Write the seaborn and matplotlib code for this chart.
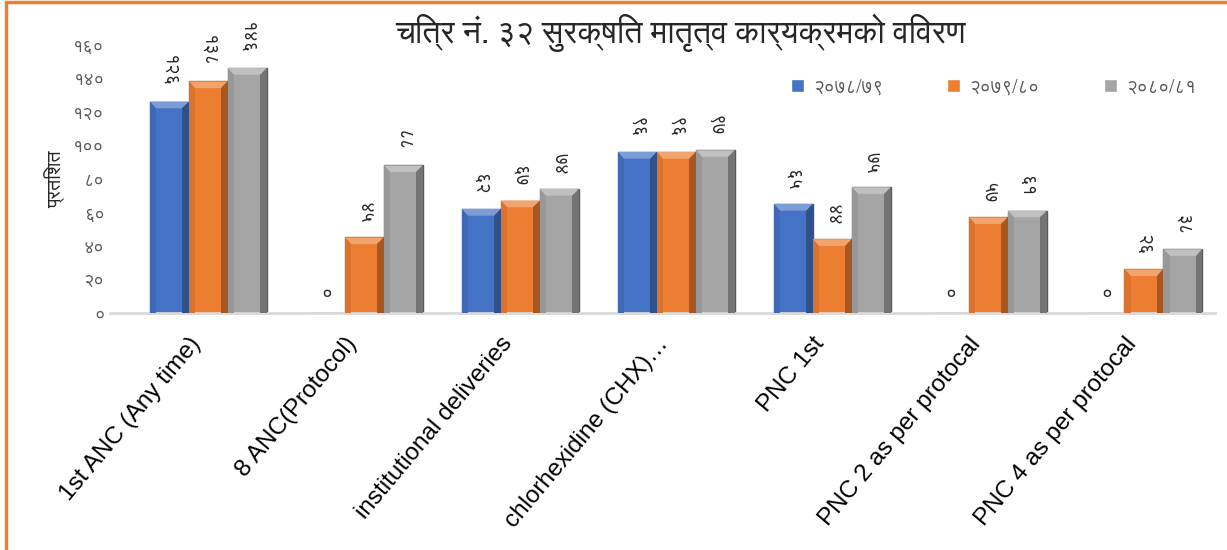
import pandas as pd
import matplotlib.pyplot as plt
import matplotlib.transforms as mtrans
import seaborn as sns
from matplotlib import font_manager
from matplotlib.lines import Line2D
from matplotlib.patches import Polygon
from matplotlib.colors import to_rgb

# डेटा
categories = ['1st ANC (Any time)', '8 ANC(Protocol)', 'institutional deliveries',
              'chlorhexidine (CHX)…', 'PNC 1st', 'PNC 2 as per protocal',
              'PNC 4 as per protocal']
years = ['२०७८/७९', '२०७९/८०', '२०८०/८१']
v_7879 = [126, 0, 62, 96, 65, 0, 0]
v_7980 = [138, 45, 67, 96, 44, 57, 26]
v_8081 = [146, 88, 74, 97, 75, 61, 38]
y_ticks = [0, 20, 40, 60, 80, 100, 120, 140, 160]

colors = ['#4472C4', '#ED7D31', '#A5A5A5']
edges = ['#2F5597', '#C55A11', '#595959']

# देवनागरी फन्ट खोज्ने (नभए Liberation Sans)
deva = [f.name for f in font_manager.fontManager.ttflist
        if 'Devanagari' in f.name or f.name in ('Lohit Devanagari', 'Mukta', 'FreeSans',
                                                'Kalimati', 'Mangal', 'Gargi', 'Samanata')]
fam = ([deva[0]] if deva else []) + ['Liberation Sans', 'DejaVu Sans']

to_deva = str.maketrans('0123456789', '०१२३४५६७८९')


def mix(c, other, t):
    a, b = to_rgb(c), to_rgb(other)
    return tuple(a[i] * (1 - t) + b[i] * t for i in range(3))


df = pd.DataFrame({
    'category': categories * 3,
    'year': [years[0]] * 7 + [years[1]] * 7 + [years[2]] * 7,
    'value': v_7879 + v_7980 + v_8081,
})

sns.set_style('white')
plt.rcParams['font.family'] = fam

fig = plt.figure(figsize=(12.27, 5.5), dpi=100)
ax = fig.add_axes([0.0897, 0.431, 0.9005, 0.488])

sns.barplot(data=df, x='category', y='value', hue='year', palette=colors,
            width=0.75, saturation=1, ax=ax)

ax.set_ylim(0, 160)
ax.set_xlim(-0.628, 6.455)

# बेभल जस्तो छाया (बारबाटै निकालिएको)
bx, by = 0.04, 4.0
for cont, col, ec in zip(ax.containers, colors, edges):
    for bar in cont:
        bar.set_edgecolor(ec)
        bar.set_linewidth(1.0)
        x, w, h = bar.get_x(), bar.get_width(), bar.get_height()
        if h <= 0:
            continue
        ax.add_patch(Polygon([(x, h), (x + w, h), (x + w - bx, h - by), (x + bx, h - by)],
                             closed=True, fc=mix(col, 'white', 0.3), ec='none', zorder=3))
        ax.add_patch(Polygon([(x + w, h), (x + w, 0), (x + w - bx, 0), (x + w - bx, h - by)],
                             closed=True, fc=mix(col, 'black', 0.3), ec='none', zorder=3))
        ax.add_patch(Polygon([(x, h), (x, 0), (x + bx, 0), (x + bx, h - by)],
                             closed=True, fc=mix(col, 'black', 0.08), ec='none', zorder=3))
    vals = [str(int(round(b.get_height()))).translate(to_deva) for b in cont]
    ax.bar_label(cont, labels=vals, rotation=-90, padding=10, fontsize=13.5,
                 color='#262626', family=fam)

ax.set_yticks(y_ticks)
ax.set_yticklabels([str(t).translate(to_deva) for t in y_ticks], family=fam,
                   fontsize=13, color='#595959')
ax.tick_params(axis='y', length=0, pad=4)
ax.tick_params(axis='x', length=0, pad=0)
ax.set_xticks(range(len(categories)))
ax.set_xticklabels(categories, rotation=50, ha='right', rotation_mode='anchor',
                   fontsize=17.5, family=['Liberation Sans'], color='#000000')
shift = mtrans.ScaledTranslation(-0.2, -0.2, fig.dpi_scale_trans)
for lbl in ax.get_xticklabels():
    lbl.set_transform(lbl.get_transform() + shift)
ax.set_xlabel('')
ax.set_ylabel('प्रतिशत', family=fam, fontsize=14, color='#262626', labelpad=6)

for s in ['left', 'right', 'top']:
    ax.spines[s].set_visible(False)
ax.spines['bottom'].set_color('#D9D9D9')
ax.spines['bottom'].set_linewidth(2)

ax.legend(loc='center right', bbox_to_anchor=(0.998, 0.84), ncol=3, frameon=False,
          handlelength=0.7, handleheight=0.7, handletextpad=0.5, columnspacing=3.4,
          prop={'family': fam, 'size': 13.5}, labelcolor='#595959')

fig.text(0.555, 0.94, 'चित्र नं. ३२ सुरक्षित मातृत्व कार्यक्रमको विवरण',
         ha='center', va='center', fontsize=23, family=fam, color='#262626')

# सुन्तला किनारा
fig.add_artist(Line2D([0.0045, 0.0045], [0, 0.997], color='#ED7D31', lw=2.5,
                      transform=fig.transFigure))
fig.add_artist(Line2D([0.0045, 1], [0.997, 0.997], color='#ED7D31', lw=2.5,
                      transform=fig.transFigure))

fig.savefig('out.png', dpi=100)
